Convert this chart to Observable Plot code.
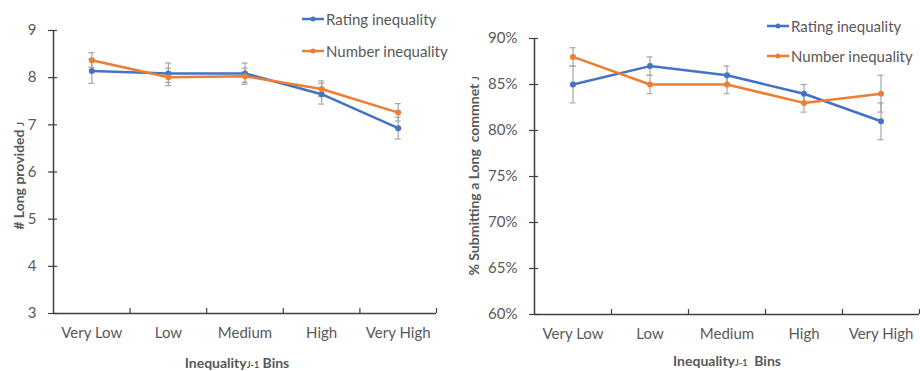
<!DOCTYPE html>
<html>
<head>
<meta charset="utf-8">
<script src="https://cdn.jsdelivr.net/npm/d3@7"></script>
<script src="https://cdn.jsdelivr.net/npm/@observablehq/plot@0.6"></script>
<style>
  body { margin: 0; background: #fff; font-family: Lato, "Open Sans", sans-serif; }
  #wrap { position: relative; width: 920px; height: 371px; display: flex; overflow: hidden; }
  .panel { position: relative; width: 460px; height: 371px; }
  .ytitle, .xtitle { position: absolute; color: #595959; font-weight: bold; font-size: 14px; white-space: nowrap; }
  .ytitle { transform: translate(-50%, -50%) rotate(-90deg); }
  .xtitle { transform: translate(-50%, -50%); }
  .sub { font-size: 9px; }
  .legend { position: absolute; color: #595959; font-size: 15px; white-space: nowrap; }
  .legend .item { display: flex; align-items: center; height: 20px; }
  .legend svg { margin-right: 2px; }
</style>
</head>
<body>
<div id="wrap">
  <div class="panel" id="p1"></div>
  <div class="panel" id="p2"></div>
</div>
<script>
const cats = ["Very Low", "Low", "Medium", "High", "Very High"];
const seriesNames = ["Rating inequality", "Number inequality"];
const colors = ["#4472C4", "#ED7D31"];

// Left chart: # Long provided
const leftTicks = [3, 4, 5, 6, 7, 8, 9];
const leftRating = [8.14, 8.09, 8.09, 7.65, 6.93];
const leftRatingLo = [7.88, 7.90, 7.90, 7.44, 6.70];
const leftRatingHi = [8.40, 8.31, 8.31, 7.88, 7.16];
const leftNumber = [8.37, 8.01, 8.03, 7.76, 7.26];
const leftNumberLo = [8.22, 7.83, 7.86, 7.60, 7.08];
const leftNumberHi = [8.53, 8.20, 8.20, 7.93, 7.45];

// Right chart: % Submitting a long comment
const rightTicks = [60, 65, 70, 75, 80, 85, 90];
const rightRating = [85, 87, 86, 84, 81];
const rightRatingLo = [83, 86, 85, 83, 79];
const rightRatingHi = [87, 88, 87, 85, 83];
const rightNumber = [88, 85, 85, 83, 84];
const rightNumberLo = [87, 84, 84, 82, 82];
const rightNumberHi = [89, 86, 86, 84, 86];

function rows(vals, lo, hi, s) {
  return cats.map((c, i) => ({cat: c, pos: i + 0.5, v: vals[i], lo: lo[i], hi: hi[i], s}));
}

function makeChart({data, ticks, fmt, margins}) {
  const yMin = ticks[0], yMax = ticks[ticks.length - 1];
  const xDomain = [0, cats.length];
  const bounds = d3.range(1, cats.length + 1);
  const axisColor = "#404040";
  const errColor = "#a6a6a6";
  const marks = [
    Plot.ruleX([xDomain[0]], {stroke: axisColor, strokeWidth: 1.5}),
    Plot.ruleY([yMin], {stroke: axisColor, strokeWidth: 1.5}),
    Plot.ruleY(ticks, {x1: xDomain[0], x2: xDomain[0], insetLeft: -5, insetRight: -4, stroke: axisColor, strokeWidth: 1.2}),
    Plot.ruleX(bounds, {y1: yMin, y2: yMin, insetBottom: 5, stroke: axisColor, strokeWidth: 1.2}),
    Plot.axisY({ticks, tickFormat: fmt, tickSize: 0, tickPadding: 17, label: null, fill: "#595959", fontSize: 15}),
    Plot.axisX({ticks: cats.map((d, i) => i + 0.5), tickFormat: d => cats[Math.round(d - 0.5)], tickSize: 0, tickPadding: 14, label: null, fill: "#595959", fontSize: 15})
  ];
  data.forEach((d, k) => {
    marks.push(Plot.line(d, {x: "pos", y: "v", stroke: colors[k], strokeWidth: 2.5}));
  });
  data.forEach((d) => {
    marks.push(Plot.ruleX(d, {x: "pos", y1: "lo", y2: "hi", stroke: errColor, strokeWidth: 1.2}));
    marks.push(Plot.ruleY(d, {y: "lo", x1: "pos", x2: "pos", insetLeft: -3, insetRight: -3, stroke: errColor, strokeWidth: 1.2}));
    marks.push(Plot.ruleY(d, {y: "hi", x1: "pos", x2: "pos", insetLeft: -3, insetRight: -3, stroke: errColor, strokeWidth: 1.2}));
  });
  data.forEach((d, k) => {
    marks.push(Plot.dot(d, {x: "pos", y: "v", r: 3, fill: colors[k]}));
  });
  return Plot.plot({
    width: 460,
    height: 371,
    ...margins,
    x: {type: "linear", domain: xDomain},
    y: {domain: [yMin, yMax]},
    style: {fontFamily: "Lato, 'Open Sans', sans-serif", fontSize: "15px", background: "white", overflow: "visible"},
    marks
  });
}

function legend(panel, left, top, gap) {
  const div = document.createElement("div");
  div.className = "legend";
  div.style.left = left + "px";
  div.style.top = top + "px";
  seriesNames.forEach((name, k) => {
    const item = document.createElement("div");
    item.className = "item";
    if (k > 0) item.style.marginTop = gap + "px";
    item.innerHTML = `<svg width="22" height="8"><line x1="0" y1="4" x2="22" y2="4" stroke="${colors[k]}" stroke-width="2.5"/><circle cx="11" cy="4" r="2.5" fill="${colors[k]}"/></svg><span>${name}</span>`;
    div.appendChild(item);
  });
  panel.appendChild(div);
}

function title(panel, cls, x, y, html) {
  const el = document.createElement("div");
  el.className = cls;
  el.style.left = x + "px";
  el.style.top = y + "px";
  el.innerHTML = html;
  panel.appendChild(el);
}

const p1 = document.getElementById("p1");
p1.appendChild(makeChart({
  data: [rows(leftRating, leftRatingLo, leftRatingHi, 0), rows(leftNumber, leftNumberLo, leftNumberHi, 1)],
  ticks: leftTicks,
  fmt: d3.format("d"),
  margins: {marginLeft: 53, marginRight: 24, marginTop: 30, marginBottom: 58}
}));
legend(p1, 302, 9, 12);
title(p1, "ytitle", 18, 176, "# Long provided <span class='sub'>J</span>");
title(p1, "xtitle", 237, 362, "Inequality<span class='sub'>J-1</span> Bins");

const p2 = document.getElementById("p2");
p2.appendChild(makeChart({
  data: [rows(rightRating, rightRatingLo, rightRatingHi, 0), rows(rightNumber, rightNumberLo, rightNumberHi, 1)],
  ticks: rightTicks,
  fmt: d => d + "%",
  margins: {marginLeft: 74, marginRight: 1, marginTop: 38, marginBottom: 57}
}));
legend(p2, 307, 16, 10);
title(p2, "ytitle", 13, 176, "% Submitting a Long&nbsp; commnet <span class='sub'>J</span>");
title(p2, "xtitle", 267, 360, "Inequality<span class='sub'>J-1</span>&nbsp; Bins");
</script>
</body>
</html>
